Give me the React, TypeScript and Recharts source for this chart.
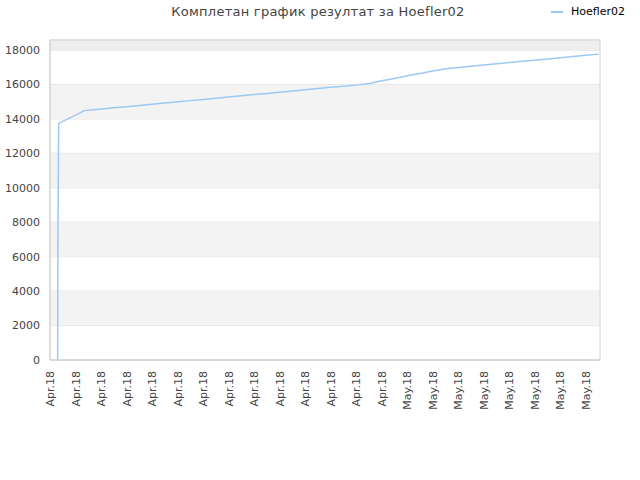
import { LineChart, Line, XAxis, YAxis, CartesianGrid, ReferenceArea } from "recharts";

// day offset from the first tick (Apr 3) and cumulative results
const days = [
    0.6, 0.62, 0.68, 2.7, 4, 5, 6, 7, 8, 9, 10, 11, 12, 13, 14, 15, 16, 17, 18, 19, 20, 21, 22, 23, 24, 25, 26,
    27, 28, 29, 30, 31, 32, 33, 34, 35, 36, 37, 38, 39, 40, 41, 42, 43,
];
const totals = [
    0, 6850, 13740, 14480, 14570, 14640, 14710, 14780, 14850, 14920, 14990, 15060, 15130, 15200, 15270, 15340,
    15410, 15480, 15550, 15620, 15690, 15760, 15830, 15900, 15960, 16060, 16210, 16350, 16500, 16640, 16780,
    16910, 16990, 17060, 17130, 17200, 17270, 17340, 17410, 17480, 17550, 17620, 17690, 17760,
];

const xTicks = [0, 2, 4, 6, 8, 10, 12, 14, 16, 18, 20, 22, 24, 26, 28, 30, 32, 34, 36, 38, 40, 42];
const xLabels = [
    "Apr.18", "Apr.18", "Apr.18", "Apr.18", "Apr.18", "Apr.18", "Apr.18", "Apr.18", "Apr.18", "Apr.18", "Apr.18",
    "Apr.18", "Apr.18", "Apr.18", "May.18", "May.18", "May.18", "May.18", "May.18", "May.18", "May.18", "May.18",
];
const yTicks = [0, 2000, 4000, 6000, 8000, 10000, 12000, 14000, 16000, 18000];
const grayBands = [
    [2000, 4000],
    [6000, 8000],
    [10000, 12000],
    [14000, 16000],
];

const X_MAX = 43.1;
const Y_MAX = 18580;
const FONT = "'DejaVu Sans', sans-serif";
const LINE_COLOR = "#9cc8f4";

const data = days.map((day, i) => ({ day, total: totals[i] }));

function XTick({ x, y, payload }: any) {
    const idx = xTicks.indexOf(payload.value);
    return (
        <g transform={`translate(${x},${y})`}>
            <text
                x={0}
                y={0}
                dy={4}
                transform="rotate(-90)"
                textAnchor="end"
                fontSize={11}
                fontFamily={FONT}
                fill="#444"
            >
                {xLabels[idx]}
            </text>
        </g>
    );
}

export default function App() {
    return (
        <div style={{ position: "absolute", left: 0, top: 0, width: 640, height: 480, background: "#fff" }}>
            <div
                style={{
                    position: "absolute",
                    top: 4,
                    left: 0,
                    width: 636,
                    textAlign: "center",
                    fontFamily: FONT,
                    fontSize: 13,
                    color: "#444",
                    letterSpacing: 0.25,
                }}
            >
                Комплетан график резултат за Hoefler02
            </div>
            <div
                style={{
                    position: "absolute",
                    top: 5,
                    left: 551,
                    display: "flex",
                    alignItems: "center",
                    fontFamily: FONT,
                    fontSize: 11,
                    color: "#000",
                }}
            >
                <svg width={12} height={4} style={{ marginRight: 8 }}>
                    <line x1={0} y1={2} x2={12} y2={2} stroke={LINE_COLOR} strokeWidth={2} />
                </svg>
                Hoefler02
            </div>
            <LineChart width={640} height={480} data={data} margin={{ top: 40, right: 40, bottom: 0, left: 0 }}>
                {grayBands.map(([a, b]) => (
                    <ReferenceArea key={a} x1={0} x2={X_MAX} y1={a} y2={b} fill="#f3f3f3" fillOpacity={1} stroke="none" />
                ))}
                <ReferenceArea x1={0} x2={X_MAX} y1={18000} y2={Y_MAX} fill="#eeeeee" fillOpacity={1} stroke="none" />
                <CartesianGrid vertical={false} stroke="#dddddd" />
                <ReferenceArea x1={0} x2={X_MAX} y1={0} y2={Y_MAX} fill="none" stroke="#d4d4d4" strokeOpacity={1} />
                <XAxis
                    dataKey="day"
                    type="number"
                    domain={[0, X_MAX]}
                    ticks={xTicks}
                    interval={0}
                    height={120}
                    tickLine={false}
                    tickSize={11}
                    tickMargin={0}
                    stroke="#d0d0d0"
                    tick={<XTick />}
                />
                <YAxis
                    type="number"
                    domain={[0, Y_MAX]}
                    ticks={yTicks}
                    interval={0}
                    width={50}
                    tickLine={false}
                    tickSize={10}
                    tickMargin={0}
                    stroke="#d0d0d0"
                    tick={{ fontSize: 11, fontFamily: FONT, fill: "#444" }}
                />
                <Line
                    type="linear"
                    dataKey="total"
                    stroke={LINE_COLOR}
                    strokeWidth={1.5}
                    dot={false}
                    isAnimationActive={false}
                />
            </LineChart>
        </div>
    );
}
